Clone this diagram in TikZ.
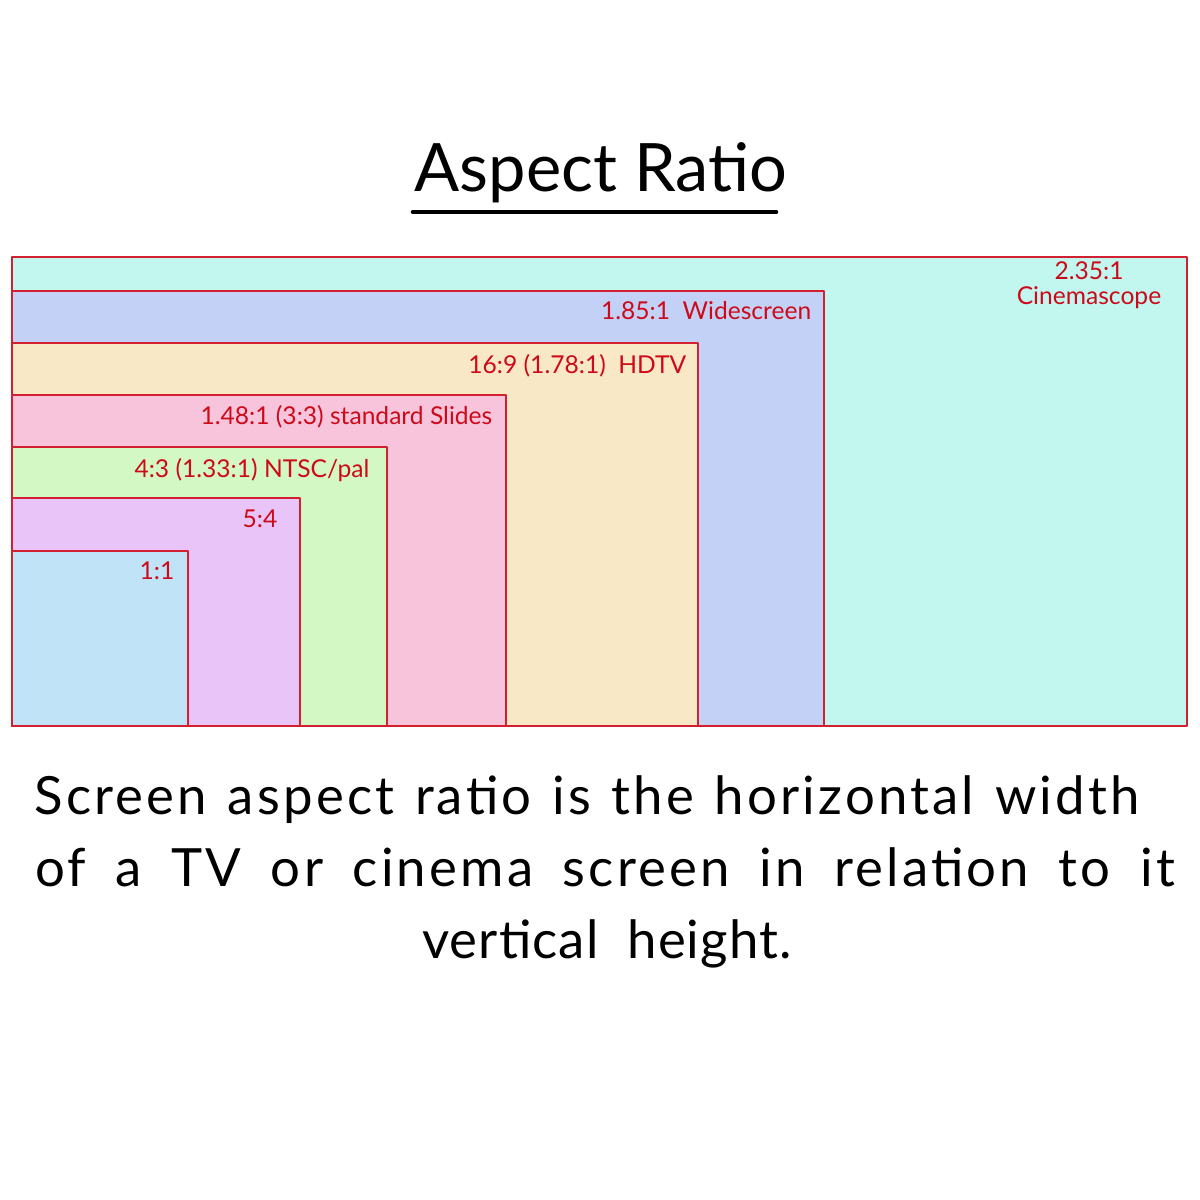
\documentclass[tikz,border=0pt]{standalone}
\usepackage{fontspec}
\setmainfont{Lato}

\definecolor{edgered}{RGB}{210,32,48}
\definecolor{labelred}{RGB}{205,10,25}
\definecolor{cinefill}{RGB}{194,247,239}
\definecolor{widefill}{RGB}{195,209,247}
\definecolor{hdtvfill}{RGB}{248,232,198}
\definecolor{slidefill}{RGB}{248,196,220}
\definecolor{ntscfill}{RGB}{212,248,196}
\definecolor{fivefill}{RGB}{232,196,248}
\definecolor{onefill}{RGB}{192,227,248}

\begin{document}
\begin{tikzpicture}[x=0.1mm,y=-0.1mm,line cap=round,line join=round,
  screen/.style={draw=edgered,line width=0.6pt},
  ratio/.style={text=labelred,font=\fontsize{7}{8}\selectfont,inner sep=0pt},
  body/.style={font=\fontsize{15}{18}\selectfont\addfontfeatures{LetterSpace=6},anchor=base,inner sep=0pt}]

  \useasboundingbox[fill=white] (0,0) rectangle (1200,1200);

  % title
  \node[font=\fontsize{19}{22}\selectfont,anchor=base,inner sep=0pt] (title) at (601,192) {Aspect Ratio};
  \draw[line width=1.3pt] (413,212) -- (776,212);

  % screens, largest first
  \filldraw[screen,fill=cinefill]  (12,257) rectangle (1187,726);
  \filldraw[screen,fill=widefill]  (12,291) rectangle (824,726);
  \filldraw[screen,fill=hdtvfill]  (12,343) rectangle (698,726);
  \filldraw[screen,fill=slidefill] (12,395) rectangle (506,726);
  \filldraw[screen,fill=ntscfill]  (12,447) rectangle (387,726);
  \filldraw[screen,fill=fivefill]  (12,498) rectangle (300,726);
  \filldraw[screen,fill=onefill]   (12,551) rectangle (188,726);

  % ratio labels
  \node[ratio,align=center] (cine) at (1089,285) {2.35:1\\[-1pt]Cinemascope};
  \node[ratio,anchor=base east] (wide) at (812,319) {1.85:1 \ Widescreen};
  \node[ratio,anchor=base east] (hdtv) at (687,373) {16:9 (1.78:1) \ HDTV};
  \node[ratio,anchor=base east] (slide) at (493,424) {1.48:1 (3:3) standard Slides};
  \node[ratio,anchor=base east] (ntsc) at (370,477) {4:3 (1.33:1) NTSC/pal};
  \node[ratio,anchor=base east] (five) at (278,527) {5:4};
  \node[ratio,anchor=base east] (one) at (175,579) {1:1};

  % definition
  \node[body] (lineA) at (587,814) {\makebox[110.5mm][s]{Screen aspect ratio is the horizontal width}};
  \node[body] (lineB) at (605,886) {\makebox[114mm][s]{of a TV or cinema screen in relation to it}};
  \node[body,font=\fontsize{15}{18}\selectfont\addfontfeatures{LetterSpace=2}] (lineC) at (607,958) {vertical \ height.};
\end{tikzpicture}
\end{document}
